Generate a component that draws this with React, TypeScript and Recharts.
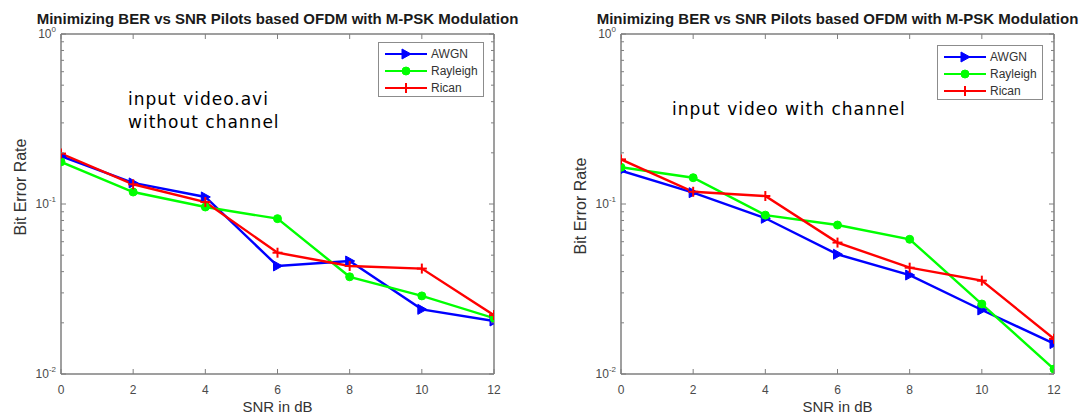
import React from 'react';
import { LineChart, Line, XAxis, YAxis, Legend } from 'recharts';

// ---------- data ----------
const snrDb = [0, 2, 4, 6, 8, 10, 12];

// left figure: input video.avi without channel
const awgnWithout = [0.191, 0.133, 0.11, 0.0432, 0.0462, 0.024, 0.0205];
const rayleighWithout = [0.177, 0.1176, 0.096, 0.082, 0.0373, 0.0288, 0.0213];
const ricanWithout = [0.198, 0.1306, 0.1027, 0.0517, 0.0432, 0.0417, 0.0222];

// right figure: input video with channel
const awgnWith = [0.157, 0.1166, 0.0824, 0.0506, 0.0382, 0.0238, 0.0151];
const rayleighWith = [0.1644, 0.1428, 0.086, 0.0752, 0.062, 0.0258, 0.0107];
const ricanWith = [0.183, 0.118, 0.1114, 0.0593, 0.0422, 0.0354, 0.0161];

const xTicks = [0, 2, 4, 6, 8, 10, 12];
const yMajorTicks = [0.01, 0.1, 1];
const yMajorExponents = ['-2', '-1', '0'];
const yMinorTicks = [0.02, 0.03, 0.04, 0.05, 0.06, 0.07, 0.08, 0.09, 0.2, 0.3, 0.4, 0.5, 0.6, 0.7, 0.8, 0.9];
const seriesNames = ['AWGN', 'Rayleigh', 'Rican'];
const seriesColors = ['#0000ff', '#00ff00', '#ff0000'];
const seriesMarkers = ['triangle', 'circle', 'plus'];

const titleText = 'Minimizing BER vs SNR Pilots based OFDM with M-PSK Modulation';
const xLabelText = 'SNR in dB';
const yLabelText = 'Bit Error Rate';
const noteWithout = ['input video.avi', 'without channel'];
const noteWith = ['input video with channel'];

// ---------- styling ----------
const AXIS = '#7f7f7f';
const TICKTEXT = '#4a4a4a';
const FONT = '"Liberation Sans", Arial, sans-serif';
const allYTicks = [...yMajorTicks, ...yMinorTicks].sort((a, b) => a - b);

function Marker({ kind, cx, cy, color }: any) {
  if (kind === 'triangle') {
    return (
      <polygon
        points={`${cx - 4},${cy - 5} ${cx + 5},${cy} ${cx - 4},${cy + 5}`}
        fill={color}
        stroke={color}
        strokeWidth={1}
      />
    );
  }
  if (kind === 'circle') {
    return <circle cx={cx} cy={cy} r={4} fill={color} stroke={color} strokeWidth={1} />;
  }
  return (
    <g stroke={color} strokeWidth={2}>
      <line x1={cx - 5} x2={cx + 5} y1={cy} y2={cy} />
      <line x1={cx} x2={cx} y1={cy - 5} y2={cy + 5} />
    </g>
  );
}

function makeYTick(side: 'left' | 'right') {
  return (props: any) => {
    const { x, y, payload } = props;
    const v = payload.value;
    const mi = yMajorTicks.findIndex((t) => Math.abs(t - v) < 1e-9);
    const major = mi >= 0;
    const len = major ? 5 : 3;
    const dir = side === 'left' ? 1 : -1;
    return (
      <g>
        <line x1={x} x2={x + dir * len} y1={y} y2={y} stroke={AXIS} strokeWidth={1} />
        {side === 'left' && major && (
          <text x={x - 5} y={y + 4} textAnchor="end" fontSize={12} fill={TICKTEXT} fontFamily={FONT}>
            10
            <tspan dy={-6} fontSize={8}>
              {yMajorExponents[mi]}
            </tspan>
          </text>
        )}
      </g>
    );
  };
}

function makeXTick(side: 'bottom' | 'top') {
  return (props: any) => {
    const { x, y, payload } = props;
    const dir = side === 'bottom' ? -1 : 1;
    return (
      <g>
        <line x1={x} x2={x} y1={y} y2={y + dir * 5} stroke={AXIS} strokeWidth={1} />
        {side === 'bottom' && (
          <text x={x} y={y + 20} textAnchor="middle" fontSize={12} fill={TICKTEXT} fontFamily={FONT}>
            {payload.value}
          </text>
        )}
      </g>
    );
  };
}

function LegendBox({ width, height }: any) {
  return (
    <svg width={width} height={height} style={{ display: 'block' }}>
      <rect x={0.5} y={0.5} width={width - 1} height={height - 1} fill="#ffffff" stroke="#8c8c8c" strokeWidth={1} />
      {seriesNames.map((n, i) => {
        const cy = 12 + i * 17;
        return (
          <g key={n}>
            <line x1={7} x2={49} y1={cy} y2={cy} stroke={seriesColors[i]} strokeWidth={2} />
            <Marker kind={seriesMarkers[i]} cx={28} cy={cy} color={seriesColors[i]} />
            <text x={53} y={cy + 4} fontSize={12} fill="#333333" fontFamily={FONT}>
              {n}
            </text>
          </g>
        );
      })}
    </svg>
  );
}

const PANEL_W = 540;
const PANEL_H = 419;
const PLOT_LEFT = 61;
const PLOT_RIGHT = 494;
const PLOT_TOP = 34;
const PLOT_BOTTOM = 374;
const Y_AXIS_W = 45;
const R_AXIS_W = 2;
const T_AXIS_H = 2;
const X_AXIS_H = 40;

function Panel({ offsetX, series, legendX, legendY, yLabelY, note, noteX, noteTop }: any) {
  const data = snrDb.map((s, i) => ({
    snr: s,
    AWGN: series[0][i],
    Rayleigh: series[1][i],
    Rican: series[2][i],
  }));
  const margin = {
    top: PLOT_TOP - T_AXIS_H,
    right: PANEL_W - PLOT_RIGHT - R_AXIS_W,
    left: PLOT_LEFT - Y_AXIS_W,
    bottom: PANEL_H - PLOT_BOTTOM - X_AXIS_H,
  };
  const plotCenter = (PLOT_LEFT + PLOT_RIGHT) / 2;
  return (
    <div style={{ position: 'absolute', left: offsetX, top: 0, width: PANEL_W, height: PANEL_H }}>
      <div
        style={{
          position: 'absolute',
          left: plotCenter - 270,
          width: 540,
          top: 11,
          textAlign: 'center',
          fontFamily: FONT,
          fontWeight: 'bold',
          fontSize: 15,
          lineHeight: '15px',
          color: '#1a1a1a',
          whiteSpace: 'nowrap',
          zIndex: 2,
        }}
      >
        {titleText}
      </div>
      <LineChart width={PANEL_W} height={PANEL_H} data={data} margin={margin}>
        <XAxis
          xAxisId="bottom"
          dataKey="snr"
          type="number"
          domain={[0, 12]}
          ticks={xTicks}
          interval={0}
          allowDataOverflow
          height={X_AXIS_H}
          tickSize={0}
          tickMargin={0}
          tickLine={false}
          tick={makeXTick('bottom')}
          axisLine={{ stroke: AXIS, strokeWidth: 1.5 }}
          label={(p: any) => (
            <text
              x={plotCenter}
              y={PLOT_BOTTOM + 38}
              textAnchor="middle"
              fontSize={15}
              fill="#333333"
              fontFamily={FONT}
            >
              {xLabelText}
            </text>
          )}
        />
        <XAxis
          xAxisId="top"
          orientation="top"
          dataKey="snr"
          type="number"
          domain={[0, 12]}
          ticks={xTicks}
          interval={0}
          allowDataOverflow
          height={T_AXIS_H}
          tickSize={0}
          tickMargin={0}
          tickLine={false}
          tick={makeXTick('top')}
          axisLine={{ stroke: AXIS, strokeWidth: 1.5 }}
        />
        <YAxis
          yAxisId="left"
          scale="log"
          type="number"
          domain={[0.01, 1]}
          ticks={allYTicks}
          interval={0}
          allowDataOverflow
          width={Y_AXIS_W}
          tickSize={0}
          tickMargin={0}
          tickLine={false}
          tick={makeYTick('left')}
          axisLine={{ stroke: AXIS, strokeWidth: 1.5 }}
          label={(p: any) => (
            <text
              x={20}
              y={yLabelY}
              transform={`rotate(-90, 20, ${yLabelY})`}
              textAnchor="middle"
              dominantBaseline="central"
              fontSize={16}
              fill="#333333"
              fontFamily={FONT}
            >
              {yLabelText}
            </text>
          )}
        />
        <YAxis
          yAxisId="right"
          orientation="right"
          scale="log"
          type="number"
          domain={[0.01, 1]}
          ticks={allYTicks}
          interval={0}
          allowDataOverflow
          width={R_AXIS_W}
          tickSize={0}
          tickMargin={0}
          tickLine={false}
          tick={makeYTick('right')}
          axisLine={{ stroke: AXIS, strokeWidth: 1.5 }}
        />
        {seriesNames.map((n, i) => (
          <Line
            key={n}
            xAxisId="bottom"
            yAxisId="left"
            dataKey={n}
            name={n}
            stroke={seriesColors[i]}
            strokeWidth={2.4}
            isAnimationActive={false}
            dot={(p: any) => (
              <Marker key={`${n}-${p.index}`} kind={seriesMarkers[i]} cx={p.cx} cy={p.cy} color={seriesColors[i]} />
            )}
            activeDot={false}
          />
        ))}
        <Legend
          layout="vertical"
          align="center"
          verticalAlign="middle"
          wrapperStyle={{ left: legendX, top: legendY, width: 106, height: 55 }}
          content={() => <LegendBox width={106} height={55} />}
        />
      </LineChart>
      <div
        style={{
          position: 'absolute',
          left: noteX,
          top: noteTop,
          fontFamily: '"DejaVu Sans", sans-serif',
          fontSize: 17,
          lineHeight: '23px',
          letterSpacing: 1,
          color: '#000000',
          whiteSpace: 'nowrap',
        }}
      >
        {note.map((t: string) => (
          <div key={t}>{t}</div>
        ))}
      </div>
    </div>
  );
}

export default function App() {
  return (
    <div
      style={{
        position: 'absolute',
        left: 0,
        top: 0,
        width: 1081,
        height: 419,
        overflow: 'hidden',
        background: '#ffffff',
      }}
    >
      <Panel
        offsetX={0}
        series={[awgnWithout, rayleighWithout, ricanWithout]}
        legendX={378}
        legendY={42}
        yLabelY={187}
        note={noteWithout}
        noteX={128}
        noteTop={88}
      />
      <Panel
        offsetX={560}
        series={[awgnWith, rayleighWith, ricanWith]}
        legendX={377}
        legendY={45}
        yLabelY={206}
        note={noteWith}
        noteX={112}
        noteTop={98}
      />
    </div>
  );
}
